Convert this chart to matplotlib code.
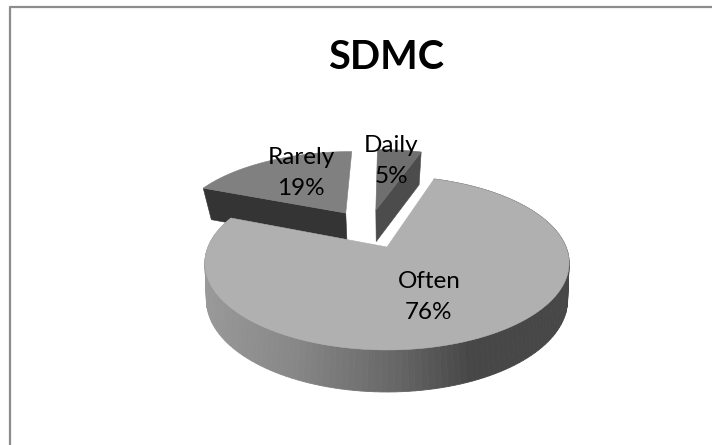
import matplotlib
matplotlib.use('Agg')
import matplotlib.pyplot as plt
from matplotlib.patches import Polygon
import numpy as np

plt.rcParams['font.family'] = ['Lato', 'DejaVu Sans']

title = 'SDMC'
labels = ['Daily', 'Often', 'Rarely']
values = [5, 76, 19]

# per slice colours: top face, cut face
top_col = ['#6f6f6f', '#b0b0b0', '#808080']
cut_col = ['#4c4c4c', '#b0b0b0', '#343434']
label_pos = [(391, 161), (429, 297), (301, 173)]
# which end of the slice shows its cut face (None = none seen)
front_cut = [-1, None, 0]
explode = 0.252


# disc coordinates -> picture pixels, the pie is seen in perspective
def top_face(u, v):
    w = 1 + 0.184 * v
    return 387 + 179 * u / w, 247 - 84 * v / w


def bottom_face(u, v):
    w = 1 + 0.225 * v
    return 387 + 176 * u / w, 247 + 32.2 - 87.4 * v / w


def wall_color(x):
    g = np.interp(x, [205, 300, 400, 470], [0.60, 0.53, 0.40, 0.28])
    return (g, g, g)


fig = plt.figure(figsize=(7.12, 4.45), dpi=100, facecolor='white')
ax = fig.add_axes([0, 0, 1, 1])
ax.set_xlim(0, 712)
ax.set_ylim(445, 0)
ax.axis('off')

# chart frame, cut off at the right and the bottom of the picture
ax.plot([10, 10, 712], [445, 7, 7], color='#8c8c8c', lw=1.6)

edges = np.concatenate([[0], np.cumsum(values)]) / np.sum(values) * 2 * np.pi
mids = (edges[:-1] + edges[1:]) / 2
# Often stays at the origin of the fitted projection
often = labels.index('Often')
off_u = -explode * np.sin(mids[often])
off_v = -explode * np.cos(mids[often])

# back to front
for i in [2, 0, 1]:
    cu = off_u + explode * np.sin(mids[i])
    cv = off_v + explode * np.cos(mids[i])
    th = np.linspace(edges[i], edges[i + 1], 160)
    ru = cu + np.sin(th)
    rv = cv + np.cos(th)
    tx, ty = top_face(ru, rv)
    bx, by = bottom_face(ru, rv)

    # outer wall, only the big slice shows it
    if i == often:
        for j in range(len(th) - 1):
            quad = [(tx[j], ty[j]), (tx[j + 1], ty[j + 1]), (bx[j + 1], by[j + 1]), (bx[j], by[j])]
            c = wall_color(tx[j])
            ax.add_patch(Polygon(quad, facecolor=c, edgecolor=c, lw=0.6))

    # cut face
    k = front_cut[i]
    if k is not None:
        quad = [top_face(cu, cv), (tx[k], ty[k]), (bx[k], by[k]), bottom_face(cu, cv)]
        ax.add_patch(Polygon(quad, facecolor=cut_col[i], edgecolor=cut_col[i], lw=0.4))

    # top face
    px, py = top_face(cu, cv)
    ax.add_patch(Polygon(np.column_stack([np.r_[px, tx], np.r_[py, ty]]),
                         facecolor=top_col[i], edgecolor=top_col[i], lw=0.4))

total = np.sum(values)
for lab, val, pos in zip(labels, values, label_pos):
    ax.text(pos[0], pos[1], '%s\n%d%%' % (lab, round(val / total * 100)), ha='center', va='center',
            fontsize=17.5, color='black', linespacing=1.58)

ax.text(386, 57.5, title, ha='center', va='center', fontsize=28.5, fontweight='bold', color='black')

fig.savefig('out.png', dpi=100)
